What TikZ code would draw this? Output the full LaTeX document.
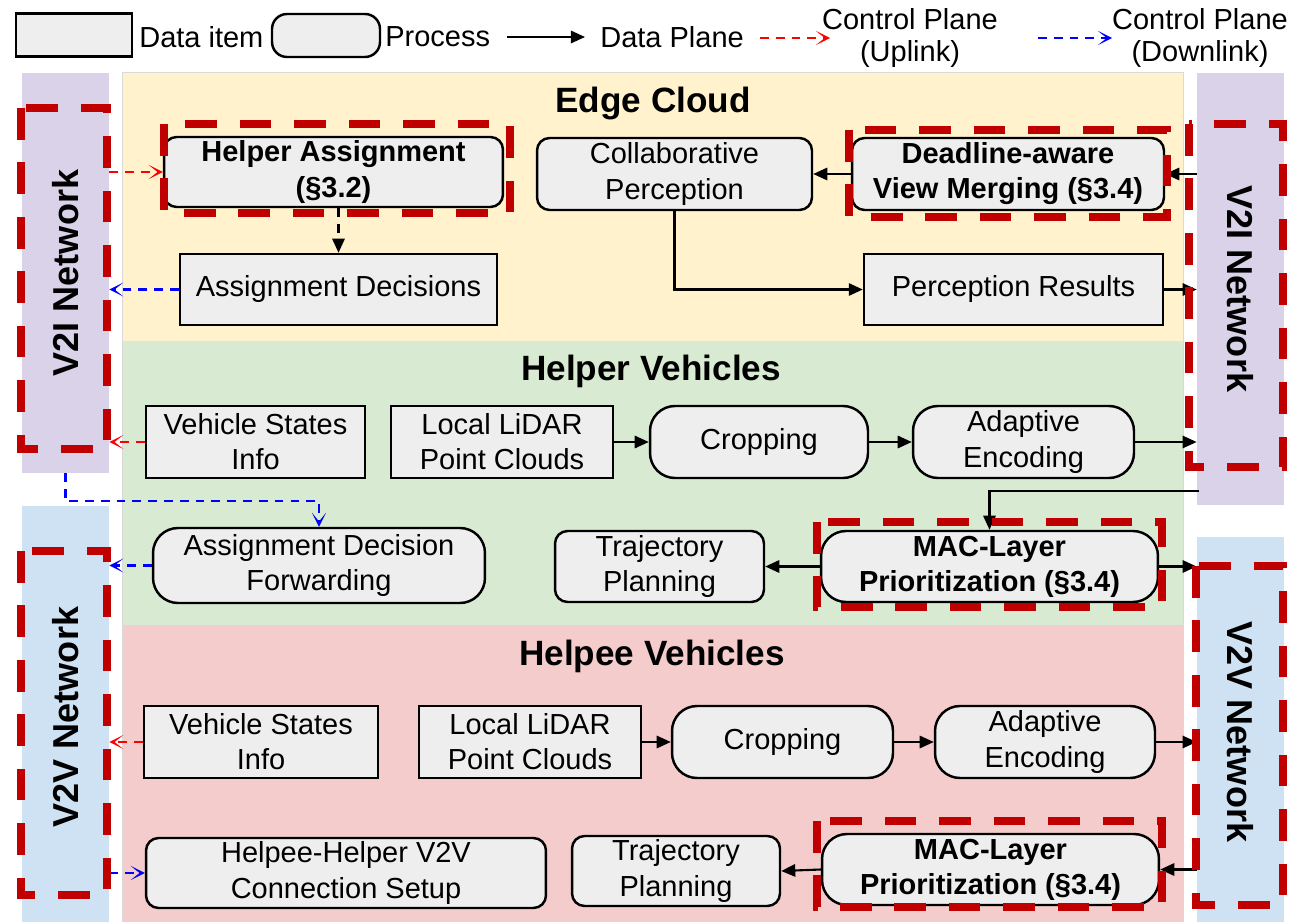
\documentclass[tikz,border=0pt]{standalone}
\usepackage{fontspec}
\setmainfont{Liberation Sans}
\usetikzlibrary{arrows.meta,calc}
\definecolor{nodebg}{HTML}{EEEEEE}
\definecolor{edgebg}{HTML}{FFF2CC}
\definecolor{helperbg}{HTML}{D9EAD3}
\definecolor{helpeebg}{HTML}{F4CCCC}
\definecolor{v2ibg}{HTML}{D9D2E9}
\definecolor{v2vbg}{HTML}{CFE2F3}
\definecolor{hlred}{HTML}{C00000}

\tikzset{
  databox/.style={draw, line width=1.4pt, fill=nodebg, align=center, inner sep=0pt, minimum height=1.44cm},
  procbox/.style={databox, rounded corners=0.5cm},
  procsmall/.style={databox, rounded corners=0.25cm},
  netbox/.style={inner sep=0pt, minimum width=1.74cm},
  netlabel/.style={font=\fontsize{20.5}{24}\selectfont\bfseries},
  lanetitle/.style={font=\fontsize{20}{24}\selectfont\bfseries},
  legendtxt/.style={inner sep=0pt, align=center, font=\fontsize{16.5}{18}\selectfont},
  flow/.style={line width=1.2pt, -{Triangle[length=8pt,width=7pt]}},
  uplink/.style={line width=1.2pt, red, dash pattern=on 5pt off 4pt, -{Stealth[length=8pt,width=8pt,inset=5pt]}},
  downlink/.style={line width=1.2pt, blue, dash pattern=on 5pt off 4pt, -{Stealth[length=8pt,width=8pt,inset=5pt]}},
  hilite/.style={draw=hlred, line width=4.5pt, dash pattern=on 18pt off 13pt},
}

\begin{document}
\begin{tikzpicture}[x=0.02cm, y=-0.02cm, font=\fontsize{16.5}{20}\selectfont]
  \useasboundingbox (0,0) rectangle (1302,922);

  % Legend
  \node[databox, minimum width=2.32cm, minimum height=0.86cm] (lgdata) at (74,35) {};
  \node[legendtxt, anchor=west] (lgdatatxt) at (139,37) {Data item};
  \node[databox, rounded corners=0.3cm, minimum width=2.16cm, minimum height=0.86cm] (lgproc) at (326,35.5) {};
  \node[legendtxt, anchor=west] (lgproctxt) at (385,37) {Process};
  \coordinate (lgd1) at (507,37);
  \coordinate (lgd2) at (585,37);
  \draw[flow] (lgd1) -- (lgd2);
  \node[legendtxt, anchor=west] (lgdatapl) at (600,37) {Data Plane};
  \coordinate (lgu1) at (760,38);
  \coordinate (lgu2) at (830,38);
  \draw[uplink] (lgu1) -- (lgu2);
  \node[legendtxt] (lguptxt) at (910,38) {Control Plane\\(Uplink)};
  \coordinate (lgw1) at (1038,38);
  \coordinate (lgw2) at (1112,38);
  \draw[downlink] (lgw1) -- (lgw2);
  \node[legendtxt] (lgdowntxt) at (1200,38) {Control Plane\\(Downlink)};

  % Lanes
  \fill[edgebg] (122,72) rectangle (1183,341);
  \fill[helperbg] (122,341) rectangle (1183,625);
  \fill[helpeebg] (122,625) rectangle (1183,922);
  \draw[black!15, thin] (122,72) rectangle (1183,922);
  \node[lanetitle] (edgettl) at (653,103) {Edge Cloud};
  \node[lanetitle] (helperttl) at (651,371) {Helper Vehicles};
  \node[lanetitle] (helpeettl) at (652,656) {Helpee Vehicles};

  % Networks on both sides
  \node[netbox, fill=v2ibg, minimum height=8.00cm] (v2il) at (65.5,273) {};
  \node[netbox, fill=v2vbg, minimum height=8.32cm] (v2vl) at (65.5,714) {};
  \node[netbox, fill=v2ibg, minimum height=8.64cm] (v2ir) at (1240.5,289) {};
  \node[netbox, fill=v2vbg, minimum height=7.70cm] (v2vr) at (1240.5,729.5) {};
  \node[netlabel, rotate=90] (v2iltxt) at (v2il) {V2I Network};
  \node[netlabel, rotate=90] (v2vltxt) at (65.5,717) {V2V Network};
  \node[netlabel, rotate=-90] (v2irtxt) at (v2ir) {V2I Network};
  \node[netlabel, rotate=-90] (v2vrtxt) at (1240.5,732) {V2V Network};

  % Edge cloud
  \node[procsmall, minimum width=6.78cm, minimum height=1.40cm, font=\fontsize{16.5}{20}\selectfont\bfseries] (ha) at (333.5,172) {Helper Assignment\\(\S3.2)};
  \node[databox, minimum width=6.34cm, minimum height=1.42cm] (ad) at (338.5,289.5) {Assignment Decisions};
  \node[procsmall, minimum width=5.50cm] (cp) at (674.5,174) {Collaborative\\Perception};
  \node[procsmall, minimum width=6.24cm, font=\fontsize{16.5}{20}\selectfont\bfseries] (vm) at (1008,174) {Deadline-aware\\View Merging (\S3.4)};
  \node[databox, minimum width=5.98cm, minimum height=1.42cm] (pr) at (1013.5,289.5) {Perception Results};

  % Helper vehicles
  \node[databox, minimum width=4.38cm] (hvs) at (255.5,442) {Vehicle States\\Info};
  \node[databox, minimum width=4.44cm] (hld) at (502,442) {Local LiDAR\\Point Clouds};
  \node[procbox, minimum width=4.36cm] (hcr) at (759,442) {Cropping};
  \node[procbox, minimum width=4.42cm] (hae) at (1023.5,442) {Adaptive\\Encoding};
  \node[procbox, minimum width=6.64cm, minimum height=1.50cm] (adf) at (319,565.5) {Assignment Decision\\Forwarding};
  \node[procsmall, minimum width=4.18cm, minimum height=1.42cm] (htp) at (659.5,566.5) {Trajectory\\Planning};
  \node[procbox, minimum width=6.74cm, minimum height=1.42cm, font=\fontsize{16.5}{20}\selectfont\bfseries] (hmac) at (989.5,566.5) {MAC-Layer\\Prioritization (\S3.4)};

  % Helpee vehicles
  \node[databox, minimum width=4.68cm] (pvs) at (261,742) {Vehicle States\\Info};
  \node[databox, minimum width=4.44cm] (pld) at (530,742) {Local LiDAR\\Point Clouds};
  \node[procbox, minimum width=4.42cm] (pcr) at (782.5,742) {Cropping};
  \node[procbox, minimum width=4.40cm] (pae) at (1045,742) {Adaptive\\Encoding};
  \node[procsmall, minimum width=8.00cm, minimum height=1.40cm] (hhs) at (346,873) {Helpee-Helper V2V\\Connection Setup};
  \node[procsmall, minimum width=4.16cm, minimum height=1.40cm] (ptp) at (676,871) {Trajectory\\Planning};
  \node[procbox, minimum width=6.74cm, minimum height=1.42cm, font=\fontsize{16.5}{20}\selectfont\bfseries] (pmac) at (990.5,869.5) {MAC-Layer\\Prioritization (\S3.4)};

  % Edge cloud connections
  \draw[uplink] (v2il.east |- ha.west) -- (ha.west);
  \draw[flow, dash pattern=on 5pt off 4pt] (ad.north |- ha.south) -- (ad.north);
  \draw[downlink] (ad.west) -- (ad.west -| v2il.east);
  \draw[flow] (vm.west) -- (cp.east);
  \draw[flow] (v2ir.west |- vm.east) -- (vm.east);
  \draw[flow] (cp.south) |- (pr.west);
  \draw[flow] (pr.east) -- (pr.east -| v2ir.west);

  % Helper connections
  \draw[uplink] (hvs.west) -- (hvs.west -| v2il.east);
  \draw[flow] (hld) -- (hcr);
  \draw[flow] (hcr) -- (hae);
  \draw[flow] (hae.east) -- (hae.east -| v2ir.west);
  \coordinate (v2itap) at (1199,491);
  \draw[flow] (v2itap) -| (hmac.north);
  \draw[downlink] (v2il.south) -- ++(0,28) -| (adf.north);
  \draw[downlink] (adf.west) -- (adf.west -| v2vl.east);
  \draw[flow] (hmac.west) -- (htp.east);
  \draw[flow] (hmac.east) -- (hmac.east -| v2vr.west);

  % Helpee connections
  \draw[uplink] (pvs.west) -- (pvs.west -| v2vl.east);
  \draw[flow] (pld) -- (pcr);
  \draw[flow] (pcr) -- (pae);
  \draw[flow] (pae.east) -- (pae.east -| v2vr.west);
  \draw[downlink] (v2vl.east |- hhs.west) -- (hhs.west);
  \draw[flow] (v2vr.west |- pmac.east) -- (pmac.east);
  \draw[flow] (pmac.west) -- (ptp.east);

  % Highlighted parts
  \draw[hilite] (164,124) rectangle (510,213);
  \draw[hilite] (849,130) rectangle (1167,217);
  \draw[hilite] (817,522) rectangle (1162,607);
  \draw[hilite] (817,821) rectangle (1162,907);
  \draw[hilite] (21,108) rectangle (107,449);
  \draw[hilite] (21,551) rectangle (107,895);
  \draw[hilite] (1189,124) rectangle (1283,467);
  \draw[hilite] (1196,566) rectangle (1283,905);
\end{tikzpicture}
\end{document}
